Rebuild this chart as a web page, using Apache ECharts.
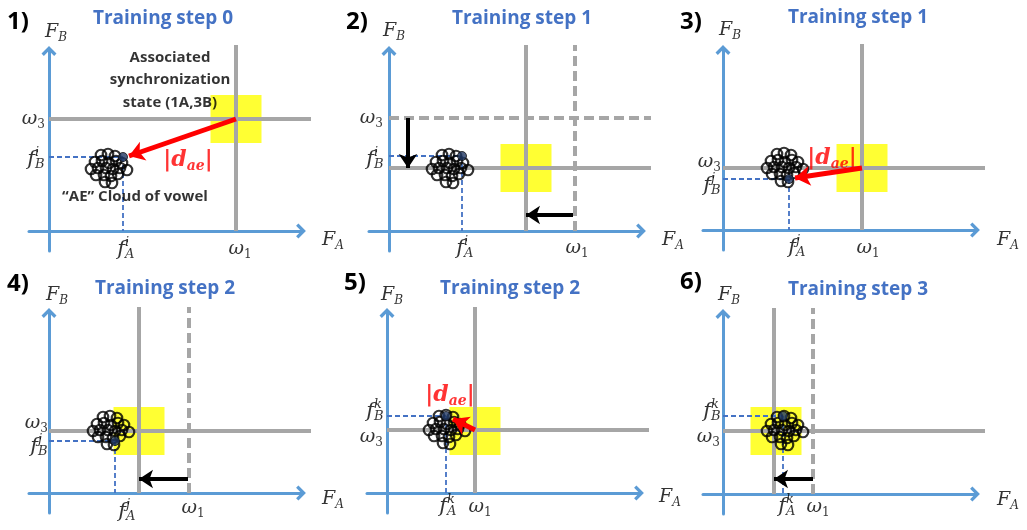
<!DOCTYPE html>
<html><head><meta charset="utf-8">
<script src="https://cdn.jsdelivr.net/npm/echarts@6/dist/echarts.min.js"></script>
<style>html,body{margin:0;padding:0;background:#fff}#chart{width:1027px;height:530px}</style>
</head><body><div id="chart"></div>
<script>
// ---------------- data ----------------
const panelNumbers = ['1)', '2)', '3)', '4)', '5)', '6)'];
const panelTitles = ['Training step 0', 'Training step 1', 'Training step 1', 'Training step 2', 'Training step 2', 'Training step 3'];
const omega1Current = [187, 137, 139, 90, 88, 51];          // solid vertical line (F_A)
const omega1Previous = [null, 186, null, 140, null, 90];    // dashed vertical line (previous ω1)
const omega3Current = [112, 63, 62, 62, 63, 63];            // solid horizontal line (F_B)
const omega3Previous = [null, 113, null, null, null, null]; // dashed horizontal line (previous ω3)
const stateSquareCenters = [[187, 112], [137, 63], [139, 62], [90, 62], [88, 62], [53, 63]];
const cloudCenters = [[60, 64], [61, 64], [62, 64], [62, 64], [60, 65], [62, 65]];
const cloudOffsets = [[-8, 12], [-1, 13], [6, 11], [-14, 5], [-7, 6], [0, 4], [7, 6], [13, 4],
  [-18, -2], [-11, -1], [-3, -1], [4, -2], [11, -1], [18, -3], [-13, -8], [-5, -8], [2, -9], [9, -7], [-4, -15], [3, -16]];
const vowelPoints = [[74, 74], [73, 75], [66, 51], [66, 52], [59, 77], [60, 78]];
const distanceArrows = [[[187, 112], [80, 75]], null, [[139, 62], [72, 52]], null, [[88, 63], [66, 74]], null];
const shiftArrows = [[], [[[19, 113], [19, 63]], [[184, 16], [137, 16]]], [], [[[139, 14], [90, 14]]], [], [[[90, 15], [51, 15]]]];
const vowelIndex = ['i', 'i', 'j', 'j', 'k', 'k'];

// ---------------- layout ----------------
const origins = [[49, 231], [389, 231], [723, 230], [49, 493], [387, 493], [723, 494]];
const titlePos = [[163, 19], [522, 19], [858, 18], [165, 289], [510, 289], [858, 290]];
const numberPos = [[18, 22], [357, 22], [691, 22], [18, 284], [355, 283], [691, 282]];
// label anchors in panel data units: [F_B, F_A, ω3, f_B, f_A, ω1]
const labelAnchors = [
  [[7, 199], [284, -9], [-4, 112], [-5, 71], [75, -19], [191, -18]],
  [[5, 200], [284, -9], [-6, 113], [-6, 71], [74, -18], [188, -17]],
  [[7, 200], [285, -10], [-2, 68], [-3, 44], [72, -18], [145, -18]],
  [[8, 198], [284, -6], [-1, 70], [-2, 46], [76, -19], [144, -15]],
  [[5, 198], [283, -4], [-4, 56], [-4, 81], [59, -14], [93, -14]],
  [[6, 199], [285, -6], [-3, 57], [-3, 82], [62, -13], [95, -13]]
];
const distLabelPos = [[139, 71], null, [109, 72], null, [63, 98], null];

const X_MIN = -20, X_MAX = 252, Y_MIN = -20, Y_MAX = 180;
const LINE_TOP = 186, LINE_RIGHT = 262;
const GRAY = '#A6A6A6', AXIS_BLUE = '#5B9BD5', GUIDE_BLUE = '#4472C4';
const SERIF = 'DejaVu Serif';
const SANS = 'Open Sans';
const CHEVRON = 'path://M8,0 L16,8 L13.5,10.5 L8,5 L2.5,10.5 L0,8 Z';

const RICH = {
  M: {fontFamily: SERIF, fontStyle: 'italic', fontSize: 19, color: '#000', lineHeight: 24},
  F: {fontFamily: SERIF, fontStyle: 'italic', fontSize: 21, color: '#000', lineHeight: 26},
  S: {fontFamily: SERIF, fontStyle: 'italic', fontSize: 12, color: '#000', lineHeight: 13, verticalAlign: 'bottom'},
  D: {fontFamily: SERIF, fontSize: 12, color: '#000', lineHeight: 13, verticalAlign: 'bottom'},
  P: {fontFamily: SERIF, fontStyle: 'italic', fontSize: 13, color: '#000', lineHeight: 12},
  R: {fontFamily: SERIF, fontStyle: 'italic', fontWeight: 'bold', fontSize: 22, color: '#FF0000', lineHeight: 26},
  RS: {fontFamily: SERIF, fontStyle: 'italic', fontWeight: 'bold', fontSize: 14, color: '#FF0000', lineHeight: 15, verticalAlign: 'bottom'},
  T: {fontFamily: SANS, fontWeight: 'bold', fontSize: 15, color: '#000', lineHeight: 22.5}
};

function lbl(pt, text, align, off) {
  return {value: pt, label: {formatter: text, align: align, offset: off || [0, 0]}};
}
function stacked(pt, main, sup, sub, align) {
  const split = align === 'center' ? 1 : -9;
  return [
    lbl(pt, '{F|' + main + '}', 'right', [split, 0]),
    lbl(pt, '{P|' + sup + '}\n{P|' + sub + '}', 'left', [split, -1])
  ];
}

const grids = [], xAxes = [], yAxes = [], series = [], graphics = [];
origins.forEach((o, i) => {
  grids.push({left: o[0] + X_MIN, top: o[1] - Y_MAX, width: X_MAX - X_MIN, height: Y_MAX - Y_MIN, containLabel: false});
  const axisCommon = {
    type: 'value', gridIndex: i,
    axisLine: {show: true, onZero: true, symbol: ['none', CHEVRON], symbolSize: [15, 11], lineStyle: {color: AXIS_BLUE, width: 3}},
    axisTick: {show: false}, axisLabel: {show: false}, splitLine: {show: false}
  };
  xAxes.push(Object.assign({min: X_MIN, max: X_MAX}, axisCommon));
  yAxes.push(Object.assign({min: Y_MIN, max: Y_MAX}, axisCommon));
  const ax = {xAxisIndex: i, yAxisIndex: i};

  // yellow synchronization state square
  series.push({type: 'scatter', ...ax, z: 1, silent: true, symbol: 'rect', symbolSize: [51, 48],
    itemStyle: {color: '#FFFF00'}, data: [stateSquareCenters[i]]});
  // gray state lines
  series.push({type: 'lines', coordinateSystem: 'cartesian2d', ...ax, z: 2, silent: true, clip: false,
    lineStyle: {color: GRAY, width: 4, opacity: 1},
    data: [{coords: [[omega1Current[i], 0], [omega1Current[i], LINE_TOP]]},
           {coords: [[0, omega3Current[i]], [LINE_RIGHT, omega3Current[i]]]}]});
  const dashed = [];
  if (omega1Previous[i] != null) dashed.push({coords: [[omega1Previous[i], 0], [omega1Previous[i], LINE_TOP]]});
  if (omega3Previous[i] != null) dashed.push({coords: [[0, omega3Previous[i]], [LINE_RIGHT, omega3Previous[i]]]});
  if (dashed.length) series.push({type: 'lines', coordinateSystem: 'cartesian2d', ...ax, z: 2, silent: true, clip: false,
    lineStyle: {color: GRAY, width: 4, opacity: 1, type: [10, 5]}, data: dashed});
  // blue dashed projections of the vowel point
  const v = vowelPoints[i];
  series.push({type: 'lines', coordinateSystem: 'cartesian2d', ...ax, z: 3, silent: true,
    lineStyle: {color: GUIDE_BLUE, width: 1.8, opacity: 1, type: [5, 3]},
    data: [{coords: [[0, v[1]], [v[0], v[1]]]}, {coords: [[v[0], v[1]], [v[0], 0]]}]});
  // cloud of vowel
  const c = cloudCenters[i];
  series.push({type: 'scatter', ...ax, z: 4, silent: true, symbol: 'circle', symbolSize: 10.5,
    itemStyle: {color: 'rgba(0,0,0,0)', borderColor: '#000', borderWidth: 2.2},
    data: cloudOffsets.map(d => [c[0] + d[0], c[1] + d[1]])});
  series.push({type: 'scatter', ...ax, z: 5, silent: true, symbol: 'circle', symbolSize: 9,
    itemStyle: {color: '#203864', borderColor: '#111', borderWidth: 1}, data: [v]});
  // red distance arrow
  if (distanceArrows[i]) series.push({type: 'lines', coordinateSystem: 'cartesian2d', ...ax, z: 6, silent: true,
    symbol: ['none', 'arrow'], symbolSize: 15,
    lineStyle: {color: '#FF0000', width: 5, opacity: 1}, data: [{coords: distanceArrows[i]}]});
  // black shift arrows
  if (shiftArrows[i].length) series.push({type: 'lines', coordinateSystem: 'cartesian2d', ...ax, z: 6, silent: true,
    symbol: ['none', 'arrow'], symbolSize: 14,
    lineStyle: {color: '#000', width: 4, opacity: 1}, data: shiftArrows[i].map(s => ({coords: s}))});

  // text labels
  const a = labelAnchors[i];
  const items = [
    lbl(a[0], '{M|F}{S|B}', 'center'),
    lbl(a[1], '{M|F}{S|A}', 'center'),
    lbl(a[2], '{M|ω}{D|3}', 'right'),
    ...stacked(a[3], 'f', vowelIndex[i], 'B', 'right'),
    ...stacked(a[4], 'f', vowelIndex[i], 'A', 'center'),
    lbl(a[5], '{M|ω}{D|1}', 'center')
  ];
  if (distLabelPos[i]) items.push(lbl(distLabelPos[i], '{R||d}{RS|ae}{R||}', 'center'));
  if (i === 0) {
    items.push(lbl([121, 151], '{T|Associated}\n{T|synchronization}\n{T|state (1A,3B)}', 'center'));
    items.push(lbl([86, 34], '{T|\u201CAE\u201D Cloud of vowel}', 'center'));
  }
  series.push({type: 'scatter', ...ax, z: 10, silent: true, clip: false, symbolSize: 0,
    label: {show: true, position: 'inside', verticalAlign: 'middle', rich: RICH}, data: items});

  graphics.push({type: 'text', x: titlePos[i][0], y: titlePos[i][1], silent: true,
    style: {text: panelTitles[i], align: 'center', verticalAlign: 'middle', fill: '#4472C4',
      font: 'bold 19px "Open Sans"'}});
  graphics.push({type: 'text', x: numberPos[i][0], y: numberPos[i][1], silent: true,
    style: {text: panelNumbers[i], align: 'center', verticalAlign: 'middle', fill: '#000',
      font: 'bold 24px "Open Sans"'}});
});

const chart = echarts.init(document.getElementById('chart'), null, {renderer: 'canvas'});
chart.setOption({
  animation: false,
  backgroundColor: '#fff',
  grid: grids, xAxis: xAxes, yAxis: yAxes, series: series, graphic: graphics
});
</script></body></html>
